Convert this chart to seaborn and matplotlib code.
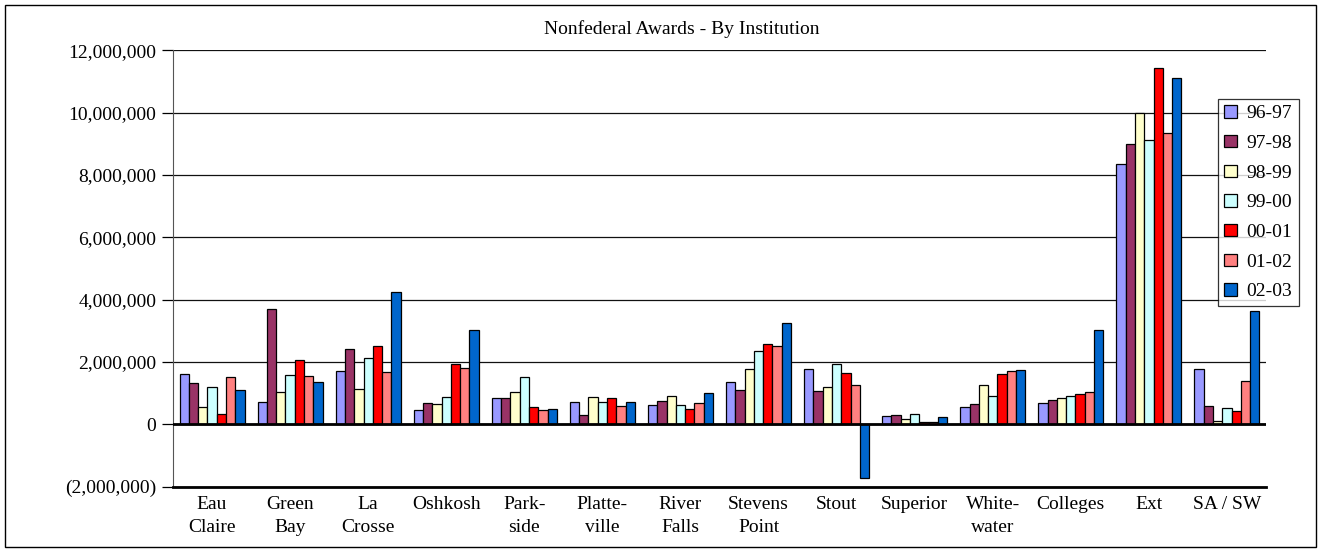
import pandas as pd
import matplotlib.pyplot as plt
import seaborn as sns
from matplotlib.ticker import FuncFormatter
from matplotlib.patches import Rectangle

# Data (in dollars)
institutions = ["Eau\nClaire", "Green\nBay", "La\nCrosse", "Oshkosh", "Park-\nside",
                "Platte-\nville", "River\nFalls", "Stevens\nPoint", "Stout", "Superior",
                "White-\nwater", "Colleges", "Ext", "SA / SW"]
years = ["96-97", "97-98", "98-99", "99-00", "00-01", "01-02", "02-03"]

y9697 = [1.60, 0.71, 1.70, 0.47, 0.83, 0.71, 0.61, 1.36, 1.78, 0.26, 0.57, 0.67, 8.36, 1.78]
y9798 = [1.33, 3.69, 2.43, 0.67, 0.83, 0.30, 0.76, 1.09, 1.07, 0.29, 0.64, 0.79, 8.98, 0.59]
y9899 = [0.57, 1.03, 1.12, 0.64, 1.05, 0.88, 0.92, 1.76, 1.19, 0.16, 1.26, 0.86, 10.00, 0.11]
y9900 = [1.20, 1.57, 2.12, 0.88, 1.51, 0.71, 0.61, 2.35, 1.93, 0.32, 0.92, 0.90, 9.11, 0.52]
y0001 = [0.33, 2.06, 2.52, 1.93, 0.55, 0.83, 0.48, 2.58, 1.65, 0.06, 1.60, 0.97, 11.44, 0.43]
y0102 = [1.51, 1.55, 1.68, 1.80, 0.45, 0.58, 0.70, 2.51, 1.26, 0.06, 1.70, 1.05, 9.35, 1.38]
y0203 = [1.10, 1.35, 4.24, 3.02, 0.48, 0.73, 1.01, 3.26, -1.71, 0.22, 1.73, 3.03, 11.12, 3.65]

colors = ["#9999FF", "#993366", "#FFFFCC", "#CCFFFF", "#FF0000", "#FF8080", "#0066CC"]

series = [y9697, y9798, y9899, y9900, y0001, y0102, y0203]
rows = []
for yr, vals in zip(years, series):
    for inst, v in zip(institutions, vals):
        rows.append({"Institution": inst, "Year": yr, "Amount": v * 1e6})
df = pd.DataFrame(rows)

plt.rcParams['font.family'] = ['Liberation Serif', 'DejaVu Serif']

fig = plt.figure(figsize=(13.23, 5.52), dpi=100)
ax = fig.add_axes([173 / 1323, 1 - 486.7 / 552, (1266 - 173) / 1323, (486.7 - 50.3) / 552])

sns.barplot(data=df, x="Institution", y="Amount", hue="Year", hue_order=years,
            order=institutions, palette=colors, saturation=1, edgecolor="black",
            linewidth=0.9, width=0.833, errorbar=None, ax=ax, zorder=3)

ax.set_ylim(-2e6, 12e6)
ax.set_xlim(-0.5, len(institutions) - 0.5)
ax.set_yticks(range(-2000000, 12000001, 2000000))


def money(v, pos):
    if v < 0:
        return "({:,.0f})".format(-v)
    return "{:,.0f}".format(v)


ax.yaxis.set_major_formatter(FuncFormatter(money))
ax.yaxis.grid(True, color="#111111", linewidth=0.9, zorder=0)
ax.set_axisbelow(True)
ax.axhline(0, color="black", linewidth=2, zorder=4)

for s in ["top", "right"]:
    ax.spines[s].set_visible(False)
ax.spines["left"].set_color("#555555")
ax.spines["bottom"].set_linewidth(2)
ax.tick_params(axis="y", direction="out", length=8, width=0.9, pad=4, labelsize=14)
ax.tick_params(axis="x", length=0, pad=7, labelsize=14)
for lbl in ax.get_xticklabels():
    lbl.set_linespacing(1.45)
ax.set_xlabel("")
ax.set_ylabel("")

# legend
handles, labels = ax.get_legend_handles_labels()
if ax.get_legend():
    ax.get_legend().remove()
leg = fig.legend(handles, labels, loc="upper left", bbox_to_anchor=(1218 / 1323, 1 - 99 / 552),
                 fontsize=14, frameon=True, fancybox=False, handlelength=0.65, handleheight=0.6,
                 handletextpad=0.5, labelspacing=0.65, borderpad=0.32, borderaxespad=0)
leg.get_frame().set_edgecolor("black")
leg.get_frame().set_linewidth(0.9)

fig.text(682 / 1323, 1 - 29 / 552, "Nonfederal Awards - By Institution", ha="center",
         va="center", fontsize=14)

# outer chart border
fig.patches.append(Rectangle((5 / 1323, 5 / 552), 1311 / 1323, 542 / 552, transform=fig.transFigure,
                             fill=False, edgecolor="black", linewidth=1))

plt.savefig("out.png", dpi=100)
